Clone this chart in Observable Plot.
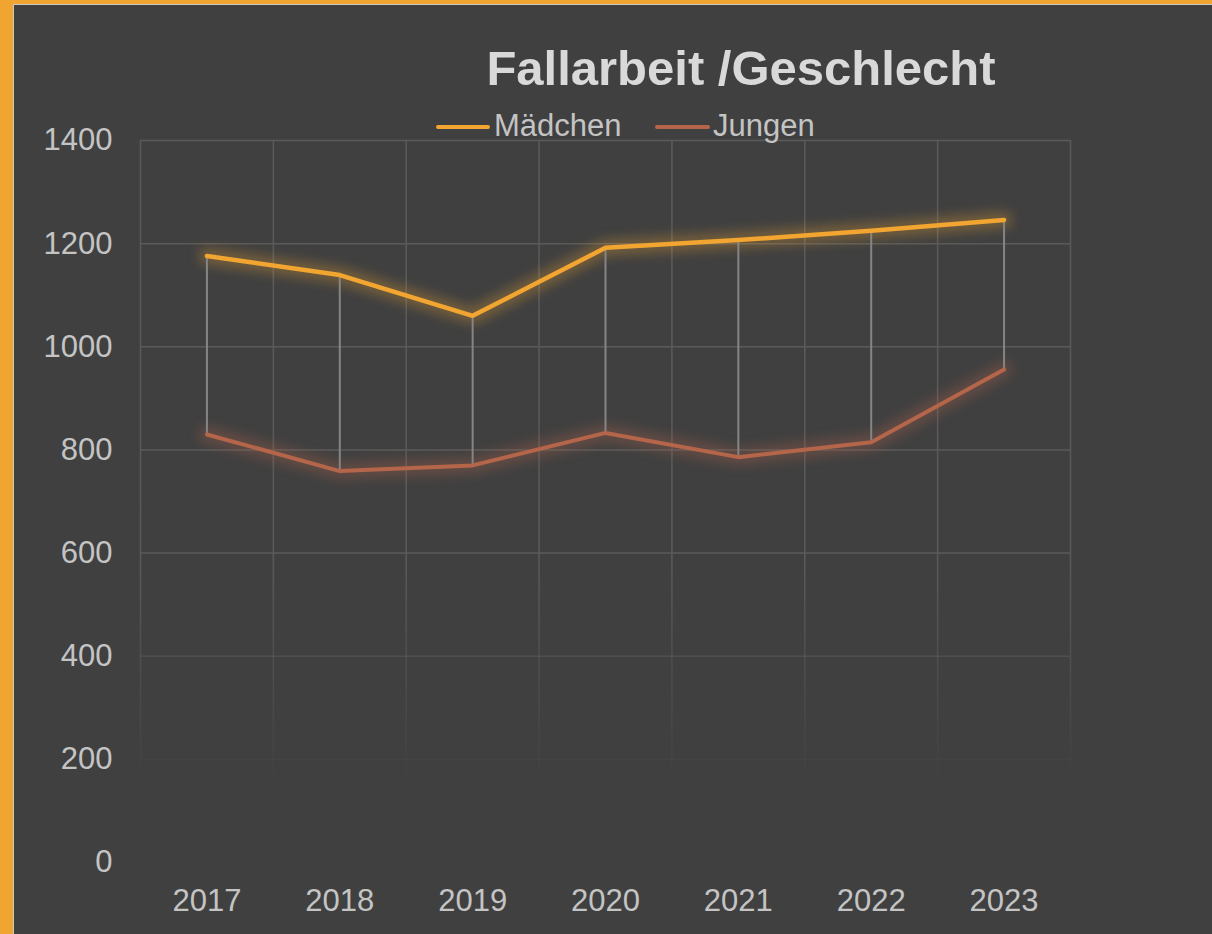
<!DOCTYPE html>
<html>
<head>
<meta charset="utf-8">
<script src="https://cdn.jsdelivr.net/npm/d3@7"></script>
<script src="https://cdn.jsdelivr.net/npm/@observablehq/plot@0.6"></script>
<style>
  html, body { margin: 0; padding: 0; }
  body { width: 1212px; height: 934px; background: #F0A530; position: relative; overflow: hidden; font-family: "Liberation Sans", Arial, sans-serif; }
  #panel { position: absolute; left: 13px; top: 4px; width: 1220px; height: 950px; background: #404040; border: 1px solid #c9c9c9; box-sizing: border-box; }
  #chart { position: absolute; left: 0; top: 0; }
  #title { position: absolute; left: 0; width: 1482px; top: 40px; text-align: center; font-weight: bold; font-size: 49px; color: #d9d9d9; line-height: 56px; }
  .leg { position: absolute; top: 108px; font-size: 31px; color: #c4c4c4; line-height: 36px; white-space: nowrap; }
  .sw { position: absolute; top: 125px; height: 4px; border-radius: 2px; }
</style>
</head>
<body>
<div id="panel"></div>
<div id="chart"></div>
<div id="title">Fallarbeit /Geschlecht</div>
<div class="sw" style="left:436px;width:54px;background:#F2A530"></div>
<div class="leg" style="left:494px">Mädchen</div>
<div class="sw" style="left:655px;width:55px;background:#B4654A"></div>
<div class="leg" style="left:713px">Jungen</div>
<script>
const years = [2017, 2018, 2019, 2020, 2021, 2022, 2023];
const maedchen = [1176, 1139, 1060, 1192, 1207, 1225, 1246];
const jungen = [830, 759, 770, 833, 786, 815, 956];
const yTicks = [0, 200, 400, 600, 800, 1000, 1200, 1400];
const seriesNames = ["Mädchen", "Jungen"];
const seriesColors = ["#F2A530", "#B4654A"];

const rowsM = years.map((y, i) => ({year: y, value: maedchen[i]}));
const rowsJ = years.map((y, i) => ({year: y, value: jungen[i]}));
const spans = years.map((y, i) => ({year: y, hi: maedchen[i], lo: jungen[i]}));
const bounds = [...years.map(y => y - 0.5), years[years.length - 1] + 0.5];

const chart = Plot.plot({
  width: 1212,
  height: 934,
  marginLeft: 140,
  marginRight: 142,
  marginTop: 140,
  marginBottom: 72,
  style: {background: "transparent", fontFamily: "Liberation Sans, Arial, sans-serif", fontSize: "31px", color: "#c4c4c4", overflow: "visible"},
  x: {domain: [2016.5, 2023.5], label: null},
  y: {domain: [0, 1400], label: null},
  marks: [
    Plot.ruleY(yTicks.filter(d => d > 0), {stroke: "url(#gridFade)", strokeWidth: 1.5}),
    Plot.ruleX(bounds, {y1: 0, y2: 1400, stroke: "url(#gridFade)", strokeWidth: 1.5}),
    // glow underlays
    Plot.line(rowsJ, {x: "year", y: "value", stroke: seriesColors[1], strokeWidth: 16, strokeOpacity: 0.32}),
    Plot.line(rowsM, {x: "year", y: "value", stroke: seriesColors[0], strokeWidth: 16, strokeOpacity: 0.3}),
    Plot.ruleX(spans, {x: "year", y1: "lo", y2: "hi", stroke: "#858585", strokeWidth: 2}),
    Plot.line(rowsJ, {x: "year", y: "value", stroke: seriesColors[1], strokeWidth: 4}),
    Plot.line(rowsM, {x: "year", y: "value", stroke: seriesColors[0], strokeWidth: 4.5}),
    Plot.axisX({ticks: years, tickFormat: d => String(d), tickSize: 0, tickPadding: 26, fill: "#c4c4c4"}),
    Plot.axisY({ticks: yTicks, tickFormat: d => String(d), tickSize: 0, tickPadding: 28, fill: "#c4c4c4"})
  ]
});

// gradient for fading gridlines
const svg = d3.select(chart);
const defs = svg.insert("defs", ":first-child");
const grad = defs.append("linearGradient")
  .attr("id", "gridFade")
  .attr("gradientUnits", "userSpaceOnUse")
  .attr("x1", 0).attr("x2", 0).attr("y1", 560).attr("y2", 785);
grad.append("stop").attr("offset", 0).attr("stop-color", "#5a5a5a").attr("stop-opacity", 1);
grad.append("stop").attr("offset", 1).attr("stop-color", "#5a5a5a").attr("stop-opacity", 0);

// blur the glow underlays
svg.selectAll("g[aria-label='line']").each(function() {
  const g = d3.select(this);
  if (+g.attr("stroke-width") === 16) g.style("filter", "blur(6px)");
});

document.getElementById("chart").appendChild(chart);
</script>
</body>
</html>
